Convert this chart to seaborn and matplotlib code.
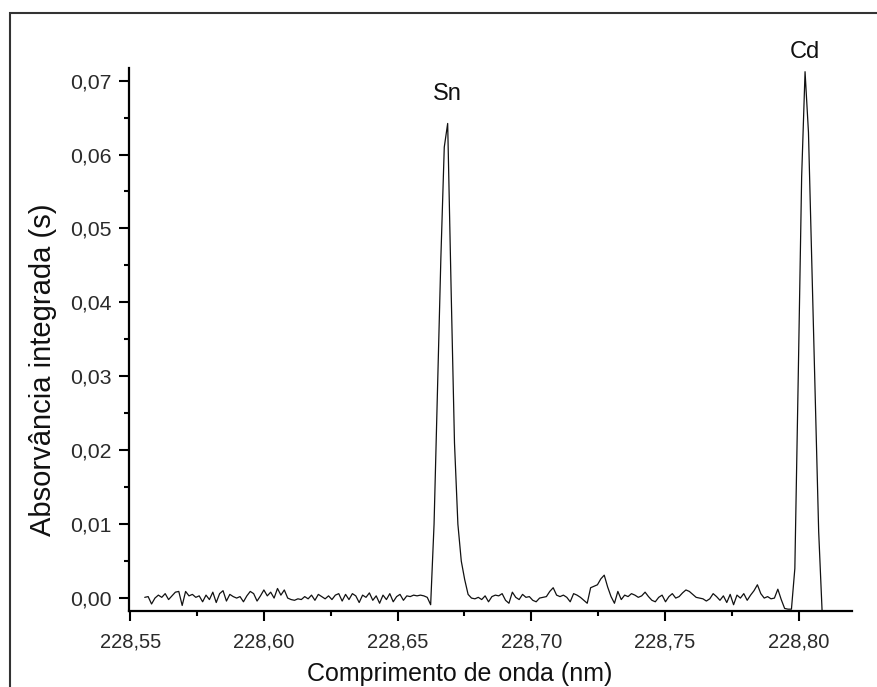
import numpy as np
import pandas as pd
import matplotlib
matplotlib.use("Agg")
import matplotlib.pyplot as plt
from matplotlib.patches import Rectangle
from matplotlib.ticker import MultipleLocator, FuncFormatter
import seaborn as sns

# Wavelength grid of the detector pixels (nm)
wl_start = 228.5554
wl_end = 228.8088

# Integrated absorbance per pixel (s)
baseline_before_sn = [
    0.0001, 0.0002, -0.0008, 0.0000, 0.0004, 0.0001, 0.0006, -0.0002, 0.0003, 0.0008,
    0.0009, -0.0010, 0.0009, 0.0003, 0.0005, 0.0001, 0.0003, -0.0005, 0.0004, -0.0002,
    0.0008, -0.0006, 0.0006, 0.0010, -0.0004, 0.0005, 0.0002, 0.0000, 0.0002, -0.0005,
    0.0003, 0.0009, 0.0006, -0.0004, 0.0003, 0.0011, 0.0003, 0.0008, 0.0000, 0.0013,
    0.0004, 0.0011, 0.0000, -0.0002, -0.0003, -0.0001, -0.0002, 0.0002, -0.0001, 0.0004,
    -0.0003, 0.0005, 0.0002, -0.0001, 0.0003, -0.0002, 0.0004, 0.0006, -0.0004, 0.0005,
    -0.0002, 0.0006, 0.0003, -0.0006, 0.0004, 0.0001, 0.0007, -0.0003, 0.0003, -0.0007,
    0.0004, -0.0002, 0.0006, -0.0005, 0.0002, 0.0005, -0.0003, 0.0003, 0.0002, 0.0004,
    0.0003, 0.0004, 0.0003, 0.0001, -0.0009,
]
sn_peak = [
    0.0100, 0.0280, 0.0460, 0.0610, 0.0642, 0.0420, 0.0210, 0.0100, 0.0050, 0.0025,
    0.0005,
]
baseline_between = [
    0.0000, -0.0001, 0.0001, -0.0002, 0.0003, -0.0005, 0.0002, 0.0004, 0.0003, 0.0006,
    -0.0003, -0.0007, 0.0008, 0.0001, -0.0002, 0.0005, 0.0001, 0.0002, -0.0003, -0.0005,
    0.0000, 0.0001, 0.0002, 0.0009, 0.0014, 0.0004, 0.0002, 0.0004, 0.0001, -0.0005,
    0.0006, 0.0004, 0.0001, -0.0003, -0.0007, 0.0014, 0.0016, 0.0018, 0.0026, 0.0031,
    0.0015, 0.0002, -0.0007, 0.0009, -0.0002, 0.0004, 0.0002, 0.0006, 0.0004, 0.0001,
    0.0003, 0.0008, 0.0002, -0.0003, -0.0005, 0.0001, 0.0004, -0.0005, 0.0002, 0.0006,
    0.0000, 0.0002, 0.0007, 0.0011, 0.0009, 0.0005, 0.0001, 0.0000, -0.0001, -0.0004,
    -0.0001, 0.0006, 0.0002, -0.0003, 0.0003, -0.0006, 0.0005, -0.0009, 0.0004, 0.0000,
    0.0006, -0.0003, 0.0004, 0.0010, 0.0018, 0.0006, 0.0000, 0.0002, -0.0001, 0.0000,
    0.0012, -0.0002, -0.0014, -0.0015, -0.0015,
]
cd_peak = [
    0.0040, 0.0300, 0.0570, 0.0712, 0.0630, 0.0450, 0.0270, 0.0090, -0.0017,
]

absorbance = baseline_before_sn + sn_peak + baseline_between + cd_peak
wavelength = np.linspace(wl_start, wl_end, len(absorbance))

df = pd.DataFrame({"wavelength": wavelength, "absorbance": absorbance})

# Peak annotations (element, wavelength, label height)
peak_labels = ["Sn", "Cd"]
label_wavelengths = [228.6685, 228.8024]
label_heights = [0.0682, 0.0738]

# Axis ticks
x_major = 0.05
x_minor = 0.025
y_major = 0.01
y_minor = 0.005

sns.set_style("ticks")
plt.rcParams["font.family"] = ["Liberation Sans", "DejaVu Sans"]

fig = plt.figure(figsize=(8.78, 6.87), dpi=100)
ax = fig.add_axes([0.1469, 0.1106, 0.8235, 0.7904])

sns.lineplot(data=df, x="wavelength", y="absorbance", ax=ax,
             color="#111111", linewidth=0.9, estimator=None, sort=False)

ax.set_xlim(228.5495, 228.82)
ax.set_ylim(-0.00175, 0.0717)

ax.xaxis.set_major_locator(MultipleLocator(x_major))
ax.xaxis.set_minor_locator(MultipleLocator(x_minor))
ax.yaxis.set_major_locator(MultipleLocator(y_major))
ax.yaxis.set_minor_locator(MultipleLocator(y_minor))

comma = FuncFormatter(lambda v, pos: f"{v:.2f}".replace(".", ",").replace("-0,00", "0,00"))
ax.xaxis.set_major_formatter(comma)
ax.yaxis.set_major_formatter(comma)

ax.tick_params(axis="both", which="major", direction="out", length=7.5, width=1.5,
               colors="black", labelcolor="#2a2a2a")
ax.tick_params(axis="both", which="minor", direction="out", length=3.8, width=1.5,
               colors="black")
ax.tick_params(axis="y", which="major", pad=5, labelsize=15.3)
ax.tick_params(axis="x", which="major", pad=8, labelsize=14.5)

sns.despine(ax=ax)
for side in ["left", "bottom"]:
    ax.spines[side].set_linewidth(1.6)
    ax.spines[side].set_color("black")

ax.set_xlabel("Comprimento de onda (nm)", fontsize=18, color="#111111")
ax.set_ylabel("Absorvância integrada (s)", fontsize=21, color="#111111")
ax.xaxis.label.set_va("center")
ax.xaxis.set_label_coords(0.458, -0.1155)
ax.yaxis.set_label_coords(-0.10, 0.445)

for label, xw, h in zip(peak_labels, label_wavelengths, label_heights):
    ax.text(xw, h, label, ha="center", va="center", fontsize=17, color="#111111",
            clip_on=False)

# Outer frame of the figure panel
frame = Rectangle((10 / 878, -0.1), 1.2, 1.1 - 13 / 687, transform=fig.transFigure,
                  fill=False, edgecolor="#333333", linewidth=1.5, clip_on=False)
fig.patches.append(frame)

fig.savefig("out.png", dpi=100, facecolor="white")
